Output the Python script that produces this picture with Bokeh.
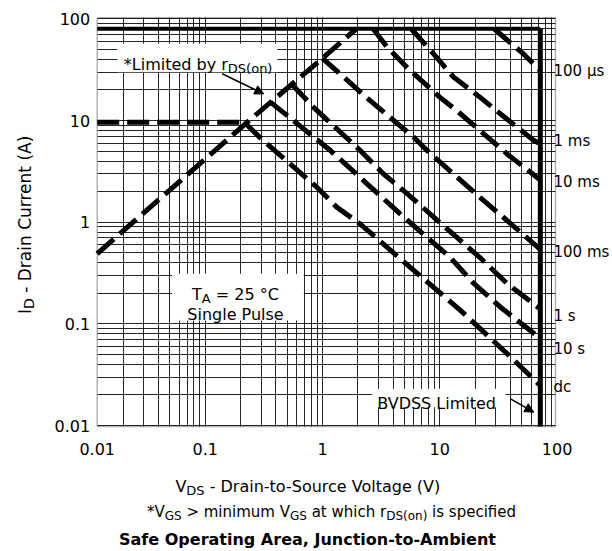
import math
from bokeh.plotting import figure
from bokeh.models import (Label, Arrow, NormalHead, BoxAnnotation, FixedTicker,
                          CustomJSTickFormatter, LogAxis, Range1d, Grid)
from bokeh.embed import file_html
from bokeh.resources import INLINE

# ---------------- data ----------------
x_tick_vals = [0.012, 0.1, 1, 10, 100]
x_tick_labels = ["0.01", "0.1", "1", "10", "100"]
y_tick_vals = [0.01, 0.1, 1, 10, 100]
y_tick_labels = ["0.01", "0.1", "1", "10", "100"]

# r_DS(on) limit line
rds_v = [0.012, 0.22, 1.0, 1.95]
rds_i = [0.49, 9.3, 41.0, 80.0]
# continuous current limit (dashed)
idc_v = [0.012, 0.22]
idc_i = [9.6, 9.6]
# pulsed current limit (solid) and BVDSS limit (solid)
idm_v = [0.012, 72.0]
idm_i = [80.0, 80.0]
bv_v = [72.0, 72.0]
bv_i = [80.0, 0.0098]

us100_v = [29.0, 52.0, 72.0]
us100_i = [80.0, 45.0, 31.0]
ms1_v = [5.7, 8.9, 13.0, 22.0, 33.0, 63.0, 72.0]
ms1_i = [80.0, 45.0, 27.0, 17.0, 11.6, 6.4, 5.9]
ms10_v = [2.7, 3.55, 5.3, 10.0, 14.0, 22.0, 37.5, 72.0]
ms10_i = [80.0, 53.0, 33.0, 17.0, 12.5, 8.0, 4.7, 2.6]
ms100_v = [1.0, 2.55, 6.0, 7.8, 13.0, 22.0, 37.5, 72.0]
ms100_i = [41.0, 15.7, 6.85, 5.07, 3.0, 1.76, 1.04, 0.54]
s1_v = [0.55, 0.84, 2.1, 3.3, 5.3, 8.9, 14.0, 22.0, 37.5, 72.0]
s1_i = [22.6, 13.5, 5.07, 3.0, 1.9, 1.12, 0.71, 0.45, 0.25, 0.14]
s10_v = [0.36, 1.17, 2.4, 4.6, 7.8, 12.3, 19.5, 33.0, 72.0]
s10_i = [15.2, 5.07, 2.39, 1.21, 0.71, 0.45, 0.25, 0.146, 0.072]
dc_v = [0.22, 0.31, 0.53, 0.9, 1.33, 2.1, 5.6, 15.0, 37.5, 72.0]
dc_i = [9.4, 6.4, 3.75, 2.2, 1.4, 0.96, 0.36, 0.136, 0.051, 0.0248]

curve_labels = ["100 µs", "1 ms", "10 ms", "100 ms", "1 s", "10 s", "dc"]
curve_label_pos = [31.0, 6.3, 2.5, 0.51, 0.12, 0.057, 0.024]

# ---------------- layout ----------------
FONT = "DejaVu Sans"
W, H = 612, 551
PL, PR, PT, PB = 96.7, 555.0, 17.3, 426.0      # plot box in pixels
XA, XB = 0.012, 97.0                           # plot box in data units
YA, YB = 0.0098, 102.5
lxA, lxB = math.log10(XA), math.log10(XB)
lyA, lyB = math.log10(YA), math.log10(YB)
kx = (lxB - lxA) / (PR - PL)
ky = (lyB - lyA) / (PB - PT)


def X(px):
    return 10 ** (lxA + (px - PL) * kx)


def Y(py):
    return 10 ** (lyA + (PB - py) * ky)


DJ = {' ': 318, '!': 401, '(': 390, ')': 390, '*': 500, ',': 318, '-': 361, '.': 318,
      '=': 838, '>': 838, '°': 500, 'µ': 636,
      'A': 684, 'B': 686, 'C': 698, 'D': 770, 'E': 632, 'G': 775, 'I': 295, 'J': 295,
      'L': 557, 'O': 787, 'P': 603, 'S': 635, 'T': 611, 'V': 684,
      'a': 613, 'b': 635, 'c': 550, 'd': 635, 'e': 615, 'f': 352, 'g': 635, 'h': 634,
      'i': 278, 'k': 579, 'l': 278, 'm': 974, 'n': 634, 'o': 612, 'p': 635, 'r': 411,
      's': 521, 't': 392, 'u': 634, 'v': 592, 'w': 818, 'y': 592}


def tw(s, size):
    return sum(DJ.get(c, 636) for c in s) * size / 1000.0


p = figure(width=W, height=H, x_axis_type="log", y_axis_type="log",
           x_range=Range1d(X(0), X(W)), y_range=Range1d(Y(H), Y(0)),
           output_backend="svg", toolbar_location=None,
           min_border=0, min_border_left=0, min_border_right=0,
           min_border_top=0, min_border_bottom=0)
p.background_fill_color = "white"
p.border_fill_color = "white"
p.outline_line_color = None

# ---- grid: every 1..9 x decade inside the plot box ----
grid_x = [m * 10 ** e for e in (-2, -1, 0, 1) for m in range(1, 10)]
grid_x = [g for g in grid_x if XA < g < XB]
grid_y = [m * 10 ** e for e in (-2, -1, 0, 1, 2) for m in range(1, 10)]
grid_y = [g for g in grid_y if YA < g < YB]
if "cross_bounds" in Grid.properties():
    p.xgrid.ticker = FixedTicker(ticks=grid_x)
    p.ygrid.ticker = FixedTicker(ticks=grid_y)
    p.xgrid.bounds = (XA, XB)
    p.ygrid.bounds = (YA, YB)
    p.xgrid.cross_bounds = (YA, YB)
    p.ygrid.cross_bounds = (XA, XB)
    for g in (p.xgrid[0], p.ygrid[0]):
        g.grid_line_color = "black"
        g.grid_line_width = 1
        g.grid_line_alpha = 0.85
else:
    p.xgrid.visible = False
    p.ygrid.visible = False
    p.segment(x0=grid_x, x1=grid_x, y0=[YA] * len(grid_x), y1=[YB] * len(grid_x),
              line_color="black", line_width=1, line_alpha=0.85)
    p.segment(x0=[XA] * len(grid_y), x1=[XB] * len(grid_y), y0=grid_y, y1=grid_y,
              line_color="black", line_width=1, line_alpha=0.85)

fmt_code = """
let best = 0, bd = 1e9;
for (let k = 0; k < vals.length; k++) {
  const d = Math.abs(Math.log10(vals[k]) - Math.log10(tick));
  if (d < bd) { bd = d; best = k; }
}
return bd < 1e-3 ? labs[best] : "";
"""


def style_axis(ax, standoff, size="16px"):
    ax.axis_line_color = None
    ax.major_tick_line_color = None
    ax.minor_tick_line_color = None
    ax.major_tick_in = 0
    ax.major_tick_out = 0
    ax.major_label_text_font = FONT
    ax.major_label_text_font_size = size
    ax.major_label_text_color = "black"
    ax.major_label_standoff = standoff


xa = p.xaxis[0]
xa.ticker = FixedTicker(ticks=x_tick_vals, minor_ticks=[])
xa.formatter = CustomJSTickFormatter(args=dict(vals=x_tick_vals, labs=x_tick_labels), code=fmt_code)
xa.fixed_location = YA
xa.bounds = (XA, 100.0)
style_axis(xa, 16)

ya = p.yaxis[0]
ya.ticker = FixedTicker(ticks=y_tick_vals, minor_ticks=[])
ya.formatter = CustomJSTickFormatter(args=dict(vals=y_tick_vals, labs=y_tick_labels), code=fmt_code)
ya.fixed_location = XA
ya.bounds = (YA, YB)
style_axis(ya, 7)

ra = LogAxis(ticker=FixedTicker(ticks=curve_label_pos, minor_ticks=[]),
             formatter=CustomJSTickFormatter(args=dict(vals=curve_label_pos, labs=curve_labels), code=fmt_code),
             fixed_location=XB)
style_axis(ra, -2, "15px")
p.add_layout(ra, "right")

# ---- curves ----
DASH = "22 8"
LW = 5
p.line(idm_v, idm_i, line_width=4, color="black")
p.line(bv_v, bv_i, line_width=5, color="black")
p.line(rds_v, rds_i, line_width=LW, line_dash=DASH, color="black")
p.line(idc_v, idc_i, line_width=LW, line_dash=DASH, color="black")
for vv, ii in ((us100_v, us100_i), (ms1_v, ms1_i), (ms10_v, ms10_i), (ms100_v, ms100_i),
               (s1_v, s1_i), (s10_v, s10_i), (dc_v, dc_i)):
    p.line(vv, ii, line_width=LW, line_dash=DASH, color="black")

# plot border
p.add_layout(BoxAnnotation(left=XA, right=XB, bottom=YA, top=YB, fill_alpha=0,
                           line_color="black", line_width=1.5))


def lab(text, px, py, size=16, align="left", baseline="alphabetic", angle=0.0,
        bold=False):
    p.add_layout(Label(x=X(px), y=Y(py), text=text, text_font=FONT,
                       text_font_size=f"{size}px", text_align=align,
                       text_baseline=baseline, angle=angle, text_color="black",
                       text_font_style="bold" if bold else "normal"))


def rich(parts, px, py, size=16, sub=13, dy=4, align="left"):
    total = sum(tw(t, sub if s else size) for t, s in parts)
    x = px - total / 2 if align == "center" else px
    for t, s in parts:
        fs = sub if s else size
        lead = len(t) - len(t.lstrip(" "))
        lab(t.lstrip(" "), x + tw(" " * lead, fs), py + (dy if s else 0), size=fs)
        x += tw(t, fs)


def rich_v(parts, px, py_center, size=16, sub=13, dy=4):
    total = sum(tw(t, sub if s else size) for t, s in parts)
    y = py_center + total / 2
    for t, s in parts:
        fs = sub if s else size
        lead = len(t) - len(t.lstrip(" "))
        lab(t.lstrip(" "), px + (dy if s else 0), y - tw(" " * lead, fs), size=fs,
            angle=math.pi / 2)
        y -= tw(t, fs)


def box(l, r, t, b):
    p.add_layout(BoxAnnotation(left=X(l), right=X(r), top=Y(t), bottom=Y(b),
                               fill_color="white", fill_alpha=1.0, line_color=None))


def arrow(x0, y0, x1, y1):
    p.add_layout(Arrow(x_start=X(x0), y_start=Y(y0), x_end=X(x1), y_end=Y(y1),
                       line_width=1.5, line_color="black",
                       end=NormalHead(size=9, fill_color="black", line_color="black")))


# annotations inside the plot
box(116.7, 276.7, 43.3, 71.7)
rich([("*Limited by r", False), ("DS(on)", True)], 123.3, 63.5)
arrow(221.7, 73.3, 263.3, 93.3)

box(171.7, 303.3, 273.3, 320.0)
rich([("T", False), ("A", True), (" = 25 °C", False)], 235, 293.5, align="center")
lab("Single Pulse", 235, 313.5, align="center")

box(371.7, 505.0, 388.3, 406.7)
lab("BVDSS Limited", 376.7, 403.3)
arrow(510.0, 398.3, 533.3, 411.7)

# axis titles / notes
rich_v([("I", False), ("D", True), (" - Drain Current (A)", False)], 24, 224, size=17, sub=14)
rich([("V", False), ("DS", True), (" - Drain-to-Source Voltage (V)", False)], 308, 486, align="center")
rich([("*V", False), ("GS", True), (" > minimum V", False), ("GS", True),
      (" at which r", False), ("DS(on)", True), (" is specified", False)], 331, 511,
     size=15, sub=12, align="center")
lab("Safe Operating Area, Junction-to-Ambient", 307, 539, size=16, align="center", bold=True)

open("out.html", "w").write(file_html(p, INLINE))
